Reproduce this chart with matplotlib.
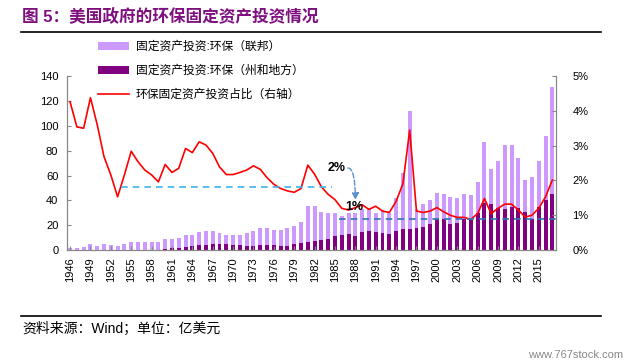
import numpy as np
import matplotlib.pyplot as plt

plt.rcParams['font.family'] = ['Liberation Sans', 'Noto Sans CJK SC', 'DejaVu Sans']

years = list(range(1946, 2018))

# 固定资产投资:环保（联邦）, 亿美元 (bar top as read)
federal = [1.4, 1.4, 2.4, 4.6, 3.2, 4.6, 4.0, 3.5, 4.6, 6.7,
           6.7, 6.7, 6.7, 6.7, 8.6, 8.6, 9.4, 12.1, 12.1, 14.7,
           15.6, 15.6, 13.4, 12.1, 12.1, 12.1, 13.4, 15.6, 17.4, 17.4,
           16.1, 16.1, 17.4, 19.3, 22.8, 35.4, 35.4, 30.3, 29.5, 30.0,
           27.4, 30.0, 29.5, 32.7, 33.0, 30.0, 32.0, 30.0, 42.0, 62.0,
           112.0, 33.0, 37.0, 40.0, 46.0, 45.0, 43.0, 42.0, 45.0, 44.0,
           55.0, 87.0, 65.0, 71.6, 84.5, 84.5, 74.3, 56.3, 58.5, 71.6,
           91.5, 131.4]

# 固定资产投资:环保（州和地方）
state_local = [0.3, 0.3, 0.3, 0.3, 0.3, 0.3, 0.3, 0.3, 0.3, 0.3,
               0.3, 0.3, 0.3, 0.3, 0.8, 1.5, 1.5, 2.5, 3.0, 4.0,
               4.0, 5.0, 5.0, 4.6, 4.0, 4.0, 3.5, 3.5, 4.0, 4.0,
               4.0, 3.5, 3.5, 4.8, 5.9, 6.5, 7.5, 8.0, 9.0, 11.0,
               12.5, 13.0, 11.3, 14.2, 15.5, 14.2, 13.4, 12.6, 15.6, 16.7,
               17.0, 18.0, 18.5, 21.0, 25.0, 24.7, 20.9, 22.0, 24.7, 24.0,
               29.5, 37.5, 37.0, 33.5, 33.0, 35.0, 34.0, 31.0, 25.0, 35.0,
               40.0, 45.5]

# 环保固定资产投资占比（右轴）, %
share = [4.26, 3.54, 3.50, 4.38, 3.60, 2.68, 2.16, 1.53, 2.16, 2.84,
         2.54, 2.30, 2.16, 1.96, 2.46, 2.23, 2.35, 2.92, 2.80, 3.11,
         3.02, 2.78, 2.39, 2.17, 2.17, 2.23, 2.30, 2.42, 2.32, 2.08,
         1.89, 1.77, 1.70, 1.66, 1.77, 2.44, 2.18, 1.82, 1.60, 1.45,
         1.20, 1.15, 1.22, 1.30, 1.17, 1.26, 1.12, 1.08, 1.40, 1.90,
         3.45, 1.12, 1.08, 1.12, 1.22, 1.10, 1.00, 0.94, 0.94, 0.88,
         1.05, 1.48, 1.05, 1.20, 1.32, 1.32, 1.15, 0.95, 1.00, 1.20,
         1.53, 2.01]

tick_years = list(range(1946, 2016, 3))

fig = plt.figure(figsize=(6.29, 3.64), dpi=100)
ax = fig.add_axes([0.106, 0.313, 0.7775, 0.478])

b1 = ax.bar(years, federal, width=0.58, color='#CC99FF', label='固定资产投资:环保（联邦）')
b2 = ax.bar(years, state_local, width=0.58, color='#800080', label='固定资产投资:环保（州和地方）')
ax.set_xlim(1945.5, 2017.5)
ax.set_ylim(0, 140)
ax.set_yticks(range(0, 141, 20))
ax.set_xticks(tick_years)
ax.set_xticklabels([str(y) for y in tick_years], rotation=90)

ax2 = ax.twinx()
l1, = ax2.plot(years, share, color='#FF0000', lw=1.2, label='环保固定资产投资占比（右轴）')
ax2.set_ylim(0, 5)
ax2.set_yticks(range(0, 6))
ax2.set_yticklabels([f'{v}%' for v in range(0, 6)])

# guide lines and notes
ax2.plot([1953.5, 1984.5], [1.82, 1.82], ls=(0, (4, 3)), color='#3DB3EC', lw=1.2)
ax2.plot([1985.6, 2018.0], [0.89, 0.89], ls=(0, (4, 3)), color='#2E75B6', lw=1.2, clip_on=False)
ax2.text(1985.2, 2.36, '2%', ha='center', va='center', fontsize=9, fontweight='bold')
ax2.text(1987.9, 1.24, '1%', ha='center', va='center', fontsize=9, fontweight='bold')
ax2.annotate('', xy=(1988.0, 1.44), xytext=(1986.9, 2.36),
             arrowprops=dict(arrowstyle='-|>', ls='--', color='#5B8FD0', lw=1,
                             connectionstyle='angle3,angleA=0,angleB=90',
                             shrinkA=0, shrinkB=0))

for a in (ax, ax2):
    a.spines['top'].set_visible(False)
    for s in ('left', 'right', 'bottom'):
        a.spines[s].set_color('#888888')
    a.tick_params(direction='in', length=3, color='#888888', labelsize=8)
ax.tick_params(axis='y', pad=6)
ax.tick_params(axis='x', pad=5)
ax2.tick_params(axis='y', pad=12)

fig.legend(handles=[b1, b2, l1], loc='upper left', bbox_to_anchor=(0.156, 0.887),
           frameon=False, fontsize=8.5, borderpad=0, borderaxespad=0,
           handlelength=2.6, handletextpad=0.6, labelspacing=1.0)

fig.text(0.035, 0.953, '图 5：美国政府的环保固定资产投资情况', fontsize=12, fontweight='bold',
         color='#7F0F7E', va='center', ha='left')
fig.add_artist(plt.Line2D([0.033, 0.956], [0.912, 0.912], color='black', lw=1.2))
fig.add_artist(plt.Line2D([0.033, 0.956], [0.132, 0.132], color='black', lw=1.2))
fig.text(0.035, 0.097, '资料来源：Wind；单位：亿美元', fontsize=10, va='center', ha='left')
fig.text(0.99, 0.025, 'www.767stock.com', fontsize=8, color='#888888', va='center', ha='right')

fig.savefig('out.png', dpi=100)
